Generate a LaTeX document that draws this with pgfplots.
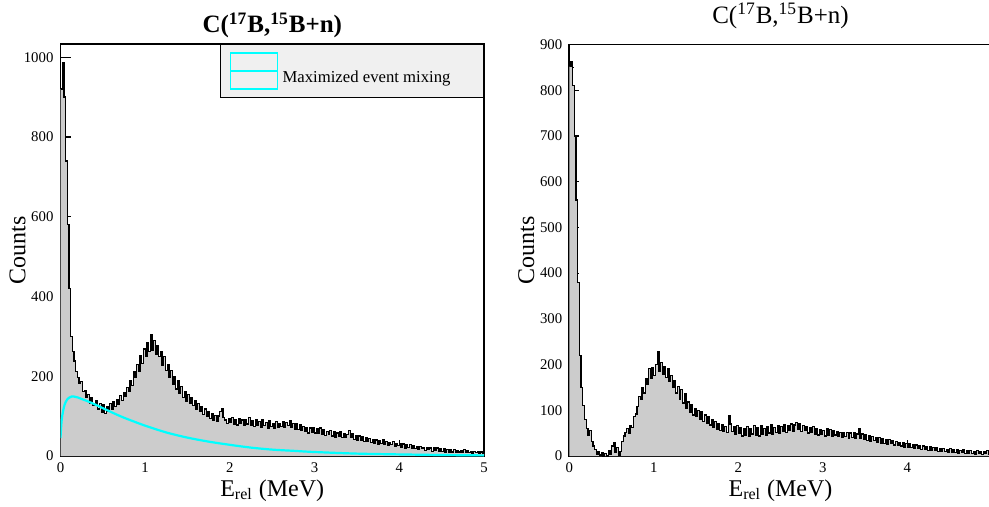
\documentclass[border=0pt]{standalone}
\usepackage{fontspec}
\setmainfont{Liberation Serif}
\usepackage{pgfplots}
\usepackage{pgfplotstable}
\pgfplotsset{compat=1.18}
\definecolor{aqua}{RGB}{0,255,255}

\pgfplotstableread[row sep=\\]{
E C\\
0.00 920\\ 0.02 986\\ 0.04 898\\ 0.06 740\\ 0.08 580\\ 0.10 420\\ 0.12 300\\ 0.14 262\\ 0.16 238\\ 0.18 212\\
0.20 196\\ 0.22 182\\ 0.24 186\\ 0.26 162\\ 0.28 164\\ 0.30 146\\ 0.32 154\\ 0.34 132\\ 0.36 146\\ 0.38 126\\
0.40 128\\ 0.42 140\\ 0.44 118\\ 0.46 132\\ 0.48 110\\ 0.50 128\\ 0.52 106\\ 0.54 124\\ 0.56 112\\ 0.58 132\\
0.60 116\\ 0.62 136\\ 0.64 124\\ 0.66 142\\ 0.68 130\\ 0.70 152\\ 0.72 140\\ 0.74 160\\ 0.76 150\\ 0.78 172\\
0.80 162\\ 0.82 190\\ 0.84 176\\ 0.86 212\\ 0.88 196\\ 0.90 230\\ 0.92 212\\ 0.94 252\\ 0.96 232\\ 0.98 268\\
1.00 250\\ 1.02 284\\ 1.04 262\\ 1.06 304\\ 1.08 266\\ 1.10 290\\ 1.12 256\\ 1.14 276\\ 1.16 250\\ 1.18 262\\
1.20 228\\ 1.22 250\\ 1.24 214\\ 1.26 230\\ 1.28 196\\ 1.30 214\\ 1.32 180\\ 1.34 200\\ 1.36 168\\ 1.38 190\\
1.40 156\\ 1.42 174\\ 1.44 146\\ 1.46 162\\ 1.48 138\\ 1.50 154\\ 1.52 132\\ 1.54 146\\ 1.56 126\\ 1.58 140\\
1.60 118\\ 1.62 132\\ 1.64 112\\ 1.66 124\\ 1.68 104\\ 1.70 118\\ 1.72 100\\ 1.74 112\\ 1.76 94\\ 1.78 106\\
1.80 90\\ 1.82 102\\ 1.84 88\\ 1.86 100\\ 1.88 112\\ 1.90 118\\ 1.92 96\\ 1.94 90\\ 1.96 82\\ 1.98 94\\
2.00 84\\ 2.02 96\\ 2.04 80\\ 2.06 92\\ 2.08 78\\ 2.10 94\\ 2.12 82\\ 2.14 90\\ 2.16 76\\ 2.18 92\\
2.20 80\\ 2.22 96\\ 2.24 78\\ 2.26 88\\ 2.28 74\\ 2.30 90\\ 2.32 78\\ 2.34 86\\ 2.36 72\\ 2.38 90\\
2.40 76\\ 2.42 84\\ 2.44 70\\ 2.46 88\\ 2.48 74\\ 2.50 82\\ 2.52 70\\ 2.54 86\\ 2.56 72\\ 2.58 82\\
2.60 74\\ 2.62 86\\ 2.64 72\\ 2.66 84\\ 2.68 76\\ 2.70 88\\ 2.72 72\\ 2.74 82\\ 2.76 68\\ 2.78 80\\
2.80 66\\ 2.82 78\\ 2.84 64\\ 2.86 74\\ 2.88 62\\ 2.90 72\\ 2.92 58\\ 2.94 70\\ 2.96 60\\ 2.98 72\\
3.00 58\\ 3.02 68\\ 3.04 56\\ 3.06 70\\ 3.08 54\\ 3.10 66\\ 3.12 52\\ 3.14 62\\ 3.16 54\\ 3.18 64\\
3.20 50\\ 3.22 60\\ 3.24 48\\ 3.26 58\\ 3.28 50\\ 3.30 60\\ 3.32 46\\ 3.34 56\\ 3.36 48\\ 3.38 54\\
3.40 64\\ 3.42 46\\ 3.44 56\\ 3.46 42\\ 3.48 52\\ 3.50 40\\ 3.52 50\\ 3.54 38\\ 3.56 48\\ 3.58 36\\
3.60 46\\ 3.62 36\\ 3.64 44\\ 3.66 34\\ 3.68 42\\ 3.70 32\\ 3.72 40\\ 3.74 30\\ 3.76 38\\ 3.78 32\\
3.80 40\\ 3.82 28\\ 3.84 36\\ 3.86 26\\ 3.88 34\\ 3.90 28\\ 3.92 36\\ 3.94 24\\ 3.96 32\\ 3.98 26\\
4.00 32\\ 4.02 22\\ 4.04 30\\ 4.06 20\\ 4.08 28\\ 4.10 22\\ 4.12 28\\ 4.14 18\\ 4.16 26\\ 4.18 18\\
4.20 24\\ 4.22 16\\ 4.24 24\\ 4.26 18\\ 4.28 22\\ 4.30 14\\ 4.32 22\\ 4.34 16\\ 4.36 20\\ 4.38 12\\
4.40 20\\ 4.42 14\\ 4.44 20\\ 4.46 12\\ 4.48 18\\ 4.50 12\\ 4.52 18\\ 4.54 10\\ 4.56 16\\ 4.58 10\\
4.60 16\\ 4.62 10\\ 4.64 16\\ 4.66 8\\ 4.68 14\\ 4.70 10\\ 4.72 14\\ 4.74 8\\ 4.76 16\\ 4.78 8\\
4.80 14\\ 4.82 8\\ 4.84 12\\ 4.86 6\\ 4.88 12\\ 4.90 8\\ 4.92 12\\ 4.94 6\\ 4.96 10\\ 4.98 6\\
5.00 6\\
}\lefthist

\pgfplotstableread[row sep=\\]{
E C\\
0.00 852\\ 0.02 862\\ 0.04 810\\ 0.06 700\\ 0.08 560\\ 0.10 380\\ 0.12 220\\ 0.14 150\\ 0.16 110\\ 0.18 80\\
0.20 60\\ 0.22 45\\ 0.24 56\\ 0.26 32\\ 0.28 22\\ 0.30 14\\ 0.32 4\\ 0.34 10\\ 0.36 2\\ 0.38 8\\
0.40 0\\ 0.42 6\\ 0.44 0\\ 0.46 12\\ 0.48 4\\ 0.50 22\\ 0.52 30\\ 0.54 8\\ 0.56 18\\ 0.58 2\\
0.60 10\\ 0.62 32\\ 0.64 44\\ 0.66 52\\ 0.68 60\\ 0.70 50\\ 0.72 66\\ 0.74 62\\ 0.76 86\\ 0.78 92\\
0.80 108\\ 0.82 130\\ 0.84 124\\ 0.86 150\\ 0.88 138\\ 0.90 170\\ 0.92 156\\ 0.94 192\\ 0.96 170\\ 0.98 194\\
1.00 176\\ 1.02 200\\ 1.04 228\\ 1.06 186\\ 1.08 204\\ 1.10 178\\ 1.12 196\\ 1.14 172\\ 1.16 190\\ 1.18 164\\
1.20 176\\ 1.22 150\\ 1.24 164\\ 1.26 138\\ 1.28 152\\ 1.30 124\\ 1.32 146\\ 1.34 116\\ 1.36 136\\ 1.38 104\\
1.40 118\\ 1.42 96\\ 1.44 112\\ 1.46 90\\ 1.48 104\\ 1.50 86\\ 1.52 100\\ 1.54 80\\ 1.56 96\\ 1.58 76\\
1.60 90\\ 1.62 72\\ 1.64 86\\ 1.66 68\\ 1.68 80\\ 1.70 62\\ 1.72 76\\ 1.74 58\\ 1.76 70\\ 1.78 56\\
1.80 68\\ 1.82 54\\ 1.84 64\\ 1.86 52\\ 1.88 88\\ 1.90 70\\ 1.92 54\\ 1.94 64\\ 1.96 48\\ 1.98 66\\
2.00 50\\ 2.02 62\\ 2.04 44\\ 2.06 60\\ 2.08 46\\ 2.10 64\\ 2.12 44\\ 2.14 60\\ 2.16 48\\ 2.18 66\\
2.20 46\\ 2.22 62\\ 2.24 44\\ 2.26 66\\ 2.28 48\\ 2.30 60\\ 2.32 46\\ 2.34 64\\ 2.36 50\\ 2.38 68\\
2.40 48\\ 2.42 62\\ 2.44 52\\ 2.46 66\\ 2.48 50\\ 2.50 64\\ 2.52 54\\ 2.54 68\\ 2.56 52\\ 2.58 66\\
2.60 56\\ 2.62 70\\ 2.64 54\\ 2.66 68\\ 2.68 74\\ 2.70 58\\ 2.72 70\\ 2.74 54\\ 2.76 66\\ 2.78 56\\
2.80 64\\ 2.82 50\\ 2.84 62\\ 2.86 52\\ 2.88 64\\ 2.90 48\\ 2.92 60\\ 2.94 46\\ 2.96 58\\ 2.98 48\\
3.00 56\\ 3.02 44\\ 3.04 60\\ 3.06 46\\ 3.08 58\\ 3.10 44\\ 3.12 56\\ 3.14 46\\ 3.16 54\\ 3.18 42\\
3.20 52\\ 3.22 40\\ 3.24 50\\ 3.26 42\\ 3.28 52\\ 3.30 38\\ 3.32 50\\ 3.34 40\\ 3.36 52\\ 3.38 38\\
3.40 48\\ 3.42 60\\ 3.44 38\\ 3.46 48\\ 3.48 36\\ 3.50 46\\ 3.52 34\\ 3.54 44\\ 3.56 32\\ 3.58 42\\
3.60 34\\ 3.62 40\\ 3.64 30\\ 3.66 40\\ 3.68 28\\ 3.70 38\\ 3.72 28\\ 3.74 36\\ 3.76 26\\ 3.78 36\\
3.80 28\\ 3.82 34\\ 3.84 24\\ 3.86 32\\ 3.88 24\\ 3.90 30\\ 3.92 22\\ 3.94 30\\ 3.96 20\\ 3.98 28\\
4.00 20\\ 4.02 26\\ 4.04 18\\ 4.06 24\\ 4.08 16\\ 4.10 24\\ 4.12 16\\ 4.14 22\\ 4.16 14\\ 4.18 22\\
4.20 14\\ 4.22 20\\ 4.24 12\\ 4.26 20\\ 4.28 12\\ 4.30 18\\ 4.32 12\\ 4.34 18\\ 4.36 10\\ 4.38 16\\
4.40 10\\ 4.42 16\\ 4.44 10\\ 4.46 14\\ 4.48 8\\ 4.50 16\\ 4.52 8\\ 4.54 14\\ 4.56 8\\ 4.58 14\\
4.60 6\\ 4.62 12\\ 4.64 8\\ 4.66 14\\ 4.68 6\\ 4.70 12\\ 4.72 6\\ 4.74 12\\ 4.76 6\\ 4.78 10\\
4.80 4\\ 4.82 12\\ 4.84 6\\ 4.86 10\\ 4.88 4\\ 4.90 10\\ 4.92 6\\ 4.94 12\\ 4.96 4\\ 4.98 8\\
5.00 8\\
}\righthist

\pgfplotsset{
  mystyle/.style={
    scale only axis,
    xmin=0, xmax=5, ymin=0,
    minor x tick num=1, minor y tick num=1,
    xtick pos=bottom, ytick pos=left, tick align=inside,
    axis line style={line width=0.9pt},
    major tick style={line width=0.6pt, black},
    minor tick style={line width=0.6pt, black},
    major x tick style={/pgfplots/major tick length=8pt},
    minor x tick style={/pgfplots/minor tick length=4pt},
    major y tick style={/pgfplots/major tick length=5pt},
    minor y tick style={/pgfplots/minor tick length=2.5pt},
    /pgf/number format/assume math mode=true,
    /pgf/number format/1000 sep={},
    tick label style={font=\fontsize{7.4}{8}\selectfont},
    xlabel={E\textsubscript{rel} (MeV)},
    ylabel={Counts},
    label style={font=\fontsize{12}{14}\selectfont},
    xlabel style={at={(axis description cs:0.5,0)}, anchor=base, yshift=-20pt},
    ylabel style={at={(axis description cs:0,0.5)}, anchor=center, yshift=21.5pt},
  }
}

\begin{document}
\begin{tikzpicture}
\begin{axis}[mystyle,
  at={(30.25pt,-228pt)}, anchor=south west,
  width=211.75pt, height=206pt,
  ymax=1033, ytick={0,200,400,600,800,1000}, xtick={0,1,2,3,4,5},
  title={\textbf{C(\textsuperscript{17}B,\textsuperscript{15}B+n)}},
  title style={font=\fontsize{12.5}{14}\selectfont, at={(axis description cs:0.5,1)}, anchor=base, yshift=-0.5pt},
  legend style={at={(axis description cs:1,1)}, anchor=north east, fill=black!6, draw=black, line width=0.5pt,
    font=\fontsize{8.35}{10}\selectfont, inner xsep=4.5pt, inner ysep=4pt},
  legend cell align=left,
  legend image code/.code={
    \draw[aqua, line width=0.6pt] (0pt,-5.5pt) rectangle (23.5pt,12.5pt);
    \draw[aqua, line width=1.2pt] (0pt,3.5pt) -- (23.5pt,3.5pt);
  },
]
\addplot[fill=gray!40, draw=none, const plot, forget plot] table[x=E, y=C] {\lefthist} \closedcycle;
\addplot[black, line width=0.65pt, const plot, forget plot] table[x=E, y=C] {\lefthist};
\addplot[aqua, line width=1.1pt, smooth] coordinates {
(0,45) (0.01,80) (0.02,100) (0.04,122) (0.06,135) (0.08,142) (0.10,146) (0.13,149) (0.16,149)
(0.20,147) (0.25,143) (0.30,139) (0.40,130) (0.50,120) (0.60,110) (0.75,96) (1.00,76) (1.25,59)
(1.50,46) (1.75,36) (2.00,28) (2.25,21) (2.50,16) (2.75,13) (3.00,10) (3.50,6) (4.00,4) (4.50,2.5) (5.00,1.5)
};
\addlegendentry{Maximized event mixing\rule{10pt}{0pt}}
\end{axis}

\begin{axis}[mystyle,
  at={(284.65pt,-228pt)}, anchor=south west,
  width=211.25pt, height=205.75pt,
  ymax=900, ytick={0,100,...,900}, xtick={0,1,2,3,4},
  title={C(\textsuperscript{17}B,\textsuperscript{15}B+n)},
  title style={font=\fontsize{12.5}{14}\selectfont, at={(axis description cs:0.5,1)}, anchor=base, yshift=4.5pt},
]
\addplot[fill=gray!40, draw=none, const plot] table[x=E, y=C] {\righthist} \closedcycle;
\addplot[black, line width=0.65pt, const plot] table[x=E, y=C] {\righthist};
\end{axis}
\pgfresetboundingbox
\useasboundingbox (0pt,0pt) rectangle (494.5pt,-253.5pt);
\end{tikzpicture}
\end{document}
